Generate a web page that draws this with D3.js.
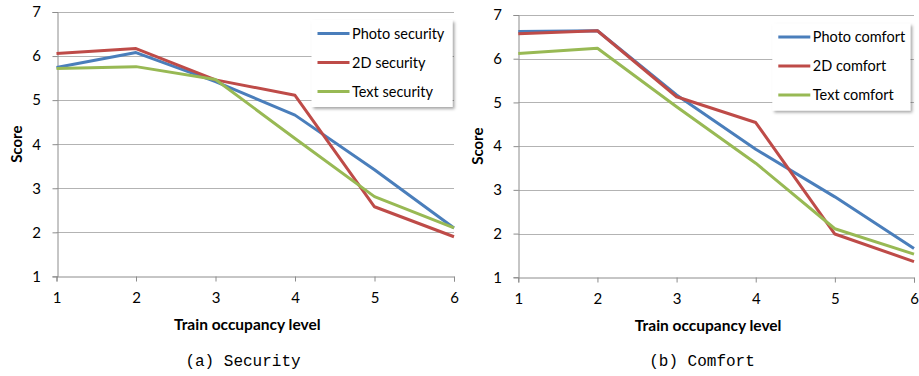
<!DOCTYPE html>
<html>
<head>
<meta charset="utf-8">
<script src="https://cdn.jsdelivr.net/npm/d3@7"></script>
<style>
  body { margin: 0; background: #fff; }
  svg { display: block; }
</style>
</head>
<body>
<svg id="chart" width="919" height="376"></svg>
<script>
const levels = [1, 2, 3, 4, 5, 6];
const yTicks = [1, 2, 3, 4, 5, 6, 7];

// (a) Security
const photoSecurity = [5.74, 6.08, 5.42, 4.66, 3.42, 2.1];
const twoDSecurity = [6.06, 6.17, 5.46, 5.11, 2.58, 1.9];
const textSecurity = [5.72, 5.76, 5.47, 4.13, 2.81, 2.1];

// (b) Comfort
const photoComfort = [6.62, 6.64, 5.17, 3.93, 2.84, 1.66];
const twoDComfort = [6.57, 6.64, 5.13, 4.54, 1.99, 1.36];
const textComfort = [6.12, 6.24, 4.9, 3.61, 2.11, 1.53];

const colors = ["#4a7ebb", "#be4b48", "#98b954"];

const svg = d3.select("#chart");

// drop shadow for legend box
const defs = svg.append("defs");
const f = defs.append("filter").attr("id", "shadow").attr("x", "-10%").attr("y", "-10%").attr("width", "130%").attr("height", "140%");
f.append("feDropShadow").attr("dx", 2).attr("dy", 2).attr("stdDeviation", 1.5).attr("flood-color", "#000").attr("flood-opacity", 0.35);

function drawPanel(opt) {
  const x = d3.scaleLinear().domain([1, 6]).range([opt.left, opt.right]);
  const y = d3.scaleLinear().domain([1, 7]).range([opt.bottom, opt.top]);
  const g = svg.append("g");

  // gridlines
  g.append("g")
    .selectAll("line")
    .data(yTicks.slice(1))
    .enter()
    .append("line")
    .attr("x1", opt.left)
    .attr("x2", opt.right)
    .attr("y1", (d) => Math.round(y(d)) + 0.5)
    .attr("y2", (d) => Math.round(y(d)) + 0.5)
    .attr("stroke", "#b3b3b3")
    .attr("stroke-width", 1);

  // y axis
  const yAxis = g.append("g")
    .attr("transform", "translate(" + (Math.round(opt.left) + 0.5) + ",0)")
    .call(d3.axisLeft(y).tickValues(yTicks).tickSize(5).tickPadding(16).tickFormat(d3.format("d")));
  // x axis
  const xAxis = g.append("g")
    .attr("transform", "translate(0," + (Math.round(opt.bottom) + 0.5) + ")")
    .call(d3.axisBottom(x).tickValues(levels).tickSize(5).tickPadding(11).tickFormat(d3.format("d")));

  [yAxis, xAxis].forEach((a) => {
    a.select(".domain").attr("stroke", "#8c8c8c");
    a.selectAll(".tick line").attr("stroke", "#8c8c8c");
    a.selectAll(".tick text")
      .attr("font-family", "Lato, 'Open Sans', sans-serif")
      .attr("font-size", "15px")
      .attr("fill", "#000");
  });
  yAxis.selectAll(".tick text").attr("text-anchor", "middle");

  // lines
  const line = d3.line().x((d, i) => x(levels[i])).y((d) => y(d));
  opt.series.forEach((s, i) => {
    g.append("path")
      .datum(s.values)
      .attr("fill", "none")
      .attr("stroke", colors[i])
      .attr("stroke-width", 3)
      .attr("stroke-linejoin", "round")
      .attr("d", line);
  });

  // axis titles
  g.append("text")
    .attr("x", (opt.left + opt.right) / 2 - 8)
    .attr("y", opt.bottom + 54)
    .attr("text-anchor", "middle")
    .attr("font-family", "Lato, 'Open Sans', sans-serif")
    .attr("font-weight", "bold")
    .attr("font-size", "15.5px")
    .text("Train occupancy level");

  g.append("text")
    .attr("transform", "translate(" + (opt.left - 35) + "," + y(4) + ") rotate(-90)")
    .attr("text-anchor", "middle")
    .attr("font-family", "Lato, 'Open Sans', sans-serif")
    .attr("font-weight", "bold")
    .attr("font-size", "15px")
    .text("Score");

  // legend
  const lg = g.append("g").attr("transform", "translate(" + opt.legend[0] + "," + opt.legend[1] + ")");
  lg.append("rect")
    .attr("width", opt.legend[2])
    .attr("height", 87)
    .attr("fill", "#fff")
    .attr("filter", "url(#shadow)");
  opt.series.forEach((s, i) => {
    const row = lg.append("g").attr("transform", "translate(0," + (13.5 + i * 29) + ")");
    row.append("line")
      .attr("x1", 6).attr("x2", 38)
      .attr("stroke", colors[i])
      .attr("stroke-width", 3);
    row.append("text")
      .attr("x", 40.5)
      .attr("dy", "0.35em")
      .attr("font-family", "Lato, 'Open Sans', sans-serif")
      .attr("font-size", "14.5px")
      .text(s.name);
  });

  // caption
  g.append("text")
    .attr("x", opt.caption)
    .attr("y", 366)
    .attr("text-anchor", "middle")
    .attr("font-family", "'Liberation Mono', 'DejaVu Sans Mono', monospace")
    .attr("font-size", "16px")
    .text(opt.title);
}

drawPanel({
  left: 56.5, right: 454, top: 12, bottom: 276.4,
  legend: [311.5, 20, 141],
  caption: 243,
  title: "(a) Security",
  series: [
    { name: "Photo security", values: photoSecurity },
    { name: "2D security", values: twoDSecurity },
    { name: "Text security", values: textSecurity }
  ]
});

drawPanel({
  left: 518.3, right: 914, top: 15, bottom: 277.3,
  legend: [772.3, 23.5, 138],
  caption: 702,
  title: "(b) Comfort",
  series: [
    { name: "Photo comfort", values: photoComfort },
    { name: "2D comfort", values: twoDComfort },
    { name: "Text comfort", values: textComfort }
  ]
});
</script>
</body>
</html>
